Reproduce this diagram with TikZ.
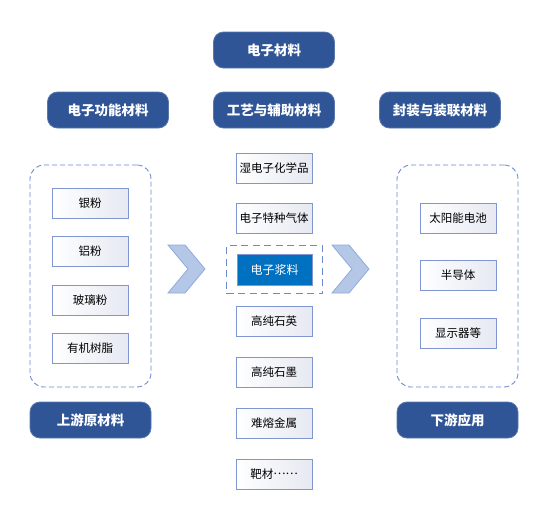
\documentclass[tikz,border=0pt]{standalone}
\usepackage{fontspec}
\newfontfamily\cjk{Noto Sans CJK SC}
\usetikzlibrary{positioning}
\definecolor{hdr}{HTML}{2F5597}
\definecolor{paste}{HTML}{0070C0}
\definecolor{boxline}{HTML}{7F96D0}
\definecolor{boxfill}{HTML}{E6E9F2}
\definecolor{dash}{HTML}{6A8CCF}
\definecolor{chevfill}{HTML}{B4C7E7}
\definecolor{chevline}{HTML}{8FAADC}
\tikzset{
  hdrbox/.style={draw=hdr!80!white, line width=0.8pt, fill=hdr, rounded corners=10pt,
    minimum width=121pt, minimum height=36pt, inner sep=0pt,
    text=white, font=\cjk\bfseries\fontsize{13.5}{15}\selectfont},
  itembox/.style={draw=boxline, line width=0.8pt, left color=white, right color=boxfill,
    minimum width=76pt, minimum height=30pt, inner sep=0pt,
    font=\cjk\fontsize{11.5}{13}\selectfont},
  pastebox/.style={draw=boxline, line width=0.8pt, fill=paste,
    minimum width=75pt, minimum height=31pt, inner sep=0pt,
    text=white, font=\cjk\fontsize{12}{14}\selectfont},
  container/.style={draw=dash, line width=0.9pt, dash pattern=on 5pt off 3pt, rounded corners=14pt,
    minimum width=121pt, minimum height=222pt, inner sep=0pt},
  dashframe/.style={draw=dash, line width=1.3pt, dash pattern=on 7pt off 4.5pt,
    minimum width=96pt, minimum height=48pt, inner sep=0pt},
  chev/.style={draw=chevline, line width=0.8pt, fill=chevfill}
}
\begin{document}
\begin{tikzpicture}[x=1pt,y=-1pt]
\useasboundingbox (0,0) rectangle (547,509);
% headers
\node[hdrbox] (top) at (274,50) {电子材料};
\node[hdrbox] (func) at (108,110) {电子功能材料};
\node[hdrbox] (proc) at (274,110) {工艺与辅助材料};
\node[hdrbox] (pack) at (440,110) {封装与装联材料};
% containers
\node[container] (left) at (90.5,276) {};
\node[container] (right) at (457.5,276) {};
% left items
\node[itembox] (l1) at (90,203) {银粉};
\node[itembox] (l2) at (90,251.5) {铝粉};
\node[itembox] (l3) at (90,300) {玻璃粉};
\node[itembox] (l4) at (90,348) {有机树脂};
% right items
\node[itembox] (r1) at (458,218) {太阳能电池};
\node[itembox] (r2) at (458,275.5) {半导体};
\node[itembox] (r3) at (458,333) {显示器等};
% middle items
\node[itembox] (m1) at (274,168) {湿电子化学品};
\node[itembox] (m2) at (274,218) {电子特种气体};
\node[dashframe] (mframe) at (274.5,269.5) {};
\node[pastebox] (m3) at (274.5,269.5) {电子浆料};
\node[itembox] (m4) at (274,321) {高纯石英};
\node[itembox] (m5) at (274,372) {高纯石墨};
\node[itembox] (m6) at (274,423) {难熔金属};
\node[itembox] (m7) at (274,474) {靶材\raisebox{0.33em}{……}};
% bottom labels
\node[hdrbox] (up) at (90.5,420) {上游原材料};
\node[hdrbox] (down) at (457.5,420) {下游应用};
% chevrons
\draw[chev] (168,245) -- (185,245) -- (205,269) -- (185,293) -- (168,293) -- (188,269) -- cycle;
\draw[chev] (332,245) -- (349,245) -- (369,269) -- (349,293) -- (332,293) -- (352,269) -- cycle;
\end{tikzpicture}
\end{document}
